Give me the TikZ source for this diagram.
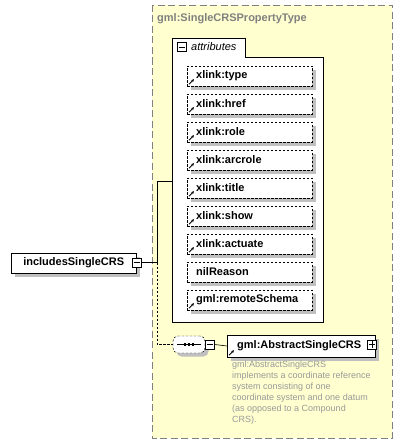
\documentclass[tikz,border=0pt]{standalone}
\usepackage{fontspec}
\setmainfont{Liberation Sans}
\usetikzlibrary{shadows,arrows.meta,calc}
\definecolor{panelfill}{HTML}{FFFFCF}
\definecolor{panelline}{HTML}{808080}
\definecolor{shadowgray}{HTML}{C0C0C0}
\definecolor{desctext}{HTML}{999999}
\tikzset{
  lbl/.style={font=\fontsize{11}{13}\selectfont\bfseries},
  shadowed/.style={drop shadow={shadow xshift=3.5pt, shadow yshift=-3.5pt, fill=shadowgray, opacity=1}},
  attrbox/.style={draw, dashed, dash pattern=on 2.5pt off 1.5pt, fill=white, shadowed, lbl,
     minimum height=20pt, text width=107pt, inner xsep=9pt, inner ysep=0pt, align=left, anchor=west},
  elembox/.style={draw, solid, fill=white, shadowed, lbl, minimum height=20pt, inner xsep=8pt, inner ysep=0pt, anchor=west},
  pm/.style={draw, fill=white, minimum size=9pt, inner sep=0pt},
  refarrow/.style={-{Stealth[length=3pt,width=3pt]}, line width=0.9pt},
  conn/.style={line width=0.6pt}
}
\begin{document}
\begin{tikzpicture}[x=1pt,y=-1pt]
\useasboundingbox (0,0) rectangle (403,444);
% panel
\fill[panelfill] (152,5) rectangle (392,438);
\draw[panelline, line width=0.8pt, dash pattern=on 7pt off 3.5pt] (152,5) rectangle (392,438);
\node[anchor=west, inner sep=0pt, text=panelline, lbl] (title) at (157,19) {gml:SingleCRSPropertyType};
% attributes container
\draw[fill=white, line width=0.7pt] (172,322) -- (172,38) -- (245,38) -- (245,57) -- (323,57) -- (323,322) -- cycle;
\coordinate (attrin) at (172,181);
\node[pm, line width=0.5pt] (attrminus) at (182,47) {};
\draw[line width=0.5pt] ($(attrminus.west)+(1.5,0)$) -- ($(attrminus.east)+(-1.5,0)$);
\node[anchor=west, inner sep=0pt, font=\fontsize{11}{13}\selectfont\itshape] (attrlbl) at (191,47) {attributes};
% attribute boxes
\foreach \n/\t/\y/\ar in {a1/xlink:type/76/1, a2/xlink:href/104/1, a3/xlink:role/132/1, a4/xlink:arcrole/160/1,
   a5/xlink:title/188/1, a6/xlink:show/216/1, a7/xlink:actuate/244/1, a8/nilReason/272/0, a9/gml:remoteSchema/300/1}{
  \node[attrbox] (\n) at (187,\y) {\t};
  \ifnum\ar=1
    \draw[refarrow] ($(\n.south west)+(2,-2)$) -- ++(5,-5);
  \fi
}
% root element
\node[elembox, minimum width=125pt] (root) at (11,263) {includesSingleCRS};
\node[pm, line width=0.6pt] (rootminus) at (137,262.5) {};
\draw[line width=0.6pt] ($(rootminus.west)+(1.5,0)$) -- ($(rootminus.east)+(-1.5,0)$);
\coordinate (junc) at (157,262.5);
\draw[conn] (rootminus.east) -- (junc) |- (attrin);
\draw[conn, dashed, dash pattern=on 2.5pt off 1.5pt] (junc) |- (180,344.5);
% sequence compositor
\node[draw, dashed, dash pattern=on 2.5pt off 1.5pt, fill=white, shadowed, rounded corners=5pt,
      minimum width=32pt, minimum height=17pt, inner sep=0pt] (seq) at (189,344.5) {};
\draw[line width=0.7pt] (177,344.5) -- (201,344.5);
\foreach \dx in {185,189,193}{ \fill (\dx-1.3,343) rectangle (\dx+1.3,346); }
\node[pm, line width=0.6pt] (seqminus) at (210,344.5) {};
\draw[line width=0.6pt] ($(seqminus.west)+(1.5,0)$) -- ($(seqminus.east)+(-1.5,0)$);
\draw[conn] (seq.east) -- (seqminus.west);
% child element
\node[elembox, minimum width=148pt, minimum height=22pt, inner xsep=10pt, text width=128pt, align=left] (child) at (227,346) {gml:AbstractSingleCRS};
\draw[refarrow] ($(child.south west)+(2,-2)$) -- ++(5,-5);
\draw[conn] (seqminus.east) -- (child.west);
\node[pm, line width=0.6pt] (childplus) at (372,344.5) {};
\draw[line width=0.6pt] ($(childplus.west)+(1.5,0)$) -- ($(childplus.east)+(-1.5,0)$)
      ($(childplus.north)+(0,1.5)$) -- ($(childplus.south)+(0,-1.5)$);
% documentation
\node[anchor=north west, inner sep=0pt, align=left, text=desctext, font=\fontsize{9}{10.9}\selectfont] (doc) at (232,361)
  {gml:AbstractSingleCRS\\implements a coordinate reference\\system consisting of one\\coordinate system and one datum\\(as opposed to a Compound\\CRS).};
\end{tikzpicture}
\end{document}
